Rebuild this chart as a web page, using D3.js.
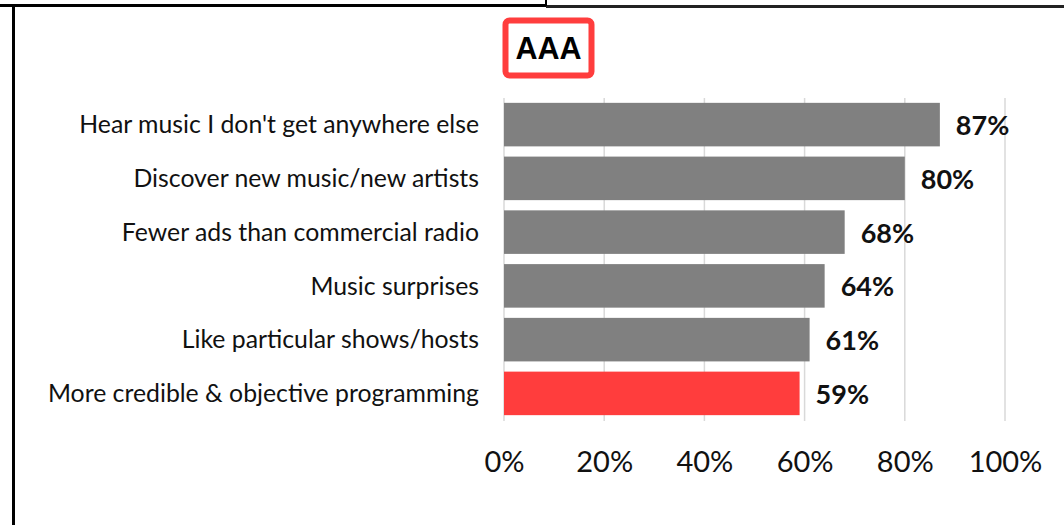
<!DOCTYPE html>
<html>
<head>
<meta charset="utf-8">
<script src="https://cdn.jsdelivr.net/npm/d3@7"></script>
<style>
  html, body { margin: 0; padding: 0; background: #fff; }
  svg { display: block; }
</style>
</head>
<body>
<svg id="chart" width="1064" height="525"></svg>
<script>
// Reasons for listening, share of respondents (%)
const categories = [
  "Hear music I don't get anywhere else",
  "Discover new music/new artists",
  "Fewer ads than commercial radio",
  "Music surprises",
  "Like particular shows/hosts",
  "More credible & objective programming"
];
const values = [87, 80, 68, 64, 61, 59];
const highlighted = ["More credible & objective programming"];
const tickValues = [0, 20, 40, 60, 80, 100];
const title = "AAA";

const svg = d3.select("#chart");
const W = 1064, H = 525;

const GRAY = "#808080", RED = "#ff3d3d", GRID = "#d9d9d9";
const FONT = "Lato, 'Open Sans', sans-serif";

// Frame lines along the top and left edge
svg.append("line").attr("x1", 0).attr("x2", 546).attr("y1", 5.5).attr("y2", 5.5)
  .attr("stroke", "#000").attr("stroke-width", 3);
svg.append("line").attr("x1", 546).attr("x2", W).attr("y1", 6.5).attr("y2", 6.5)
  .attr("stroke", "#222").attr("stroke-width", 3);
svg.append("line").attr("x1", 546).attr("x2", 546).attr("y1", 0).attr("y2", 6)
  .attr("stroke", "#000").attr("stroke-width", 2);
svg.append("line").attr("x1", 13.5).attr("x2", 13.5).attr("y1", 4).attr("y2", H)
  .attr("stroke", "#000").attr("stroke-width", 3);

// Scales
const x = d3.scaleLinear().domain([0, 100]).range([504, 1005]);
const y = d3.scaleBand().domain(categories).range([98, 420]).paddingInner(0.19).paddingOuter(0.09);

// Vertical gridlines
svg.append("g").selectAll("line").data(tickValues).join("line")
  .attr("x1", d => x(d)).attr("x2", d => x(d))
  .attr("y1", 98).attr("y2", 421)
  .attr("stroke", GRID).attr("stroke-width", 1.5);

// Bars
svg.append("g").selectAll("rect").data(categories).join("rect")
  .attr("x", x(0))
  .attr("y", d => y(d))
  .attr("width", (d, i) => x(values[i]) - x(0))
  .attr("height", y.bandwidth())
  .attr("fill", d => highlighted.includes(d) ? RED : GRAY);

// Value labels
svg.append("g").selectAll("text").data(categories).join("text")
  .attr("x", (d, i) => x(values[i]) + 16)
  .attr("y", d => y(d) + y.bandwidth() / 2 + 1)
  .attr("dy", "0.35em")
  .attr("font-family", FONT).attr("font-weight", 700).attr("font-size", 27)
  .attr("fill", "#111")
  .text((d, i) => values[i] + "%");

// Category axis labels
const yAxis = d3.axisLeft(y).tickSize(0).tickPadding(0);
const gy = svg.append("g").attr("transform", `translate(${x(0) - 25},0)`).call(yAxis);
gy.select(".domain").remove();
gy.selectAll("text")
  .attr("font-family", FONT).attr("font-size", 24.8).attr("fill", "#111")
  .attr("dy", "0.35em");

// Percentage axis
const xAxis = d3.axisBottom(x).tickValues(tickValues).tickSize(0).tickPadding(0)
  .tickFormat(d => d + "%");
const gx = svg.append("g").attr("transform", "translate(0,472)").call(xAxis);
gx.select(".domain").remove();
gx.selectAll("text")
  .attr("font-family", FONT).attr("font-size", 29).attr("fill", "#111")
  .attr("dy", 0);

// Boxed title
const tg = svg.append("g");
tg.append("rect").attr("x", 505.5).attr("y", 20.5).attr("width", 86).attr("height", 55)
  .attr("rx", 4).attr("fill", "#fff").attr("stroke", RED).attr("stroke-width", 6);
tg.append("text").attr("x", 548.5).attr("y", 58.5)
  .attr("text-anchor", "middle")
  .attr("font-family", "'Liberation Sans', Arial, sans-serif").attr("font-weight", 700)
  .attr("font-size", 30.5).attr("fill", "#000")
  .text(title);
</script>
</body>
</html>
